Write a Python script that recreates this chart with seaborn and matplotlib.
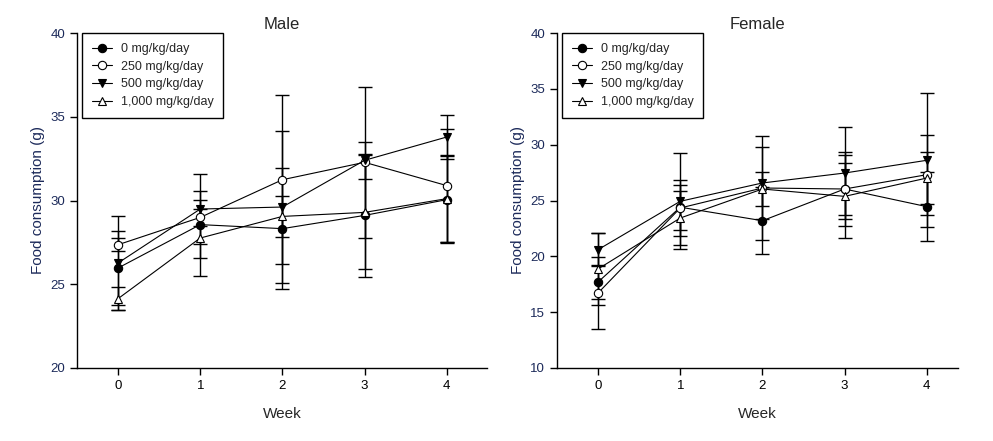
import matplotlib
matplotlib.use("Agg")
import matplotlib.pyplot as plt
import seaborn as sns
import pandas as pd
from matplotlib import font_manager

sns.set_style("ticks")
fams = [f.name for f in font_manager.fontManager.ttflist]
main_font = "Liberation Sans Narrow" if "Liberation Sans Narrow" in fams else "Liberation Sans"
plt.rcParams["font.family"] = [main_font, "DejaVu Sans"]

weeks = [0, 1, 2, 3, 4]
doses = ["0 mg/kg/day", "250 mg/kg/day", "500 mg/kg/day", "1,000 mg/kg/day"]

# Male means and SD
male_0 = [25.97, 28.56, 28.32, 29.11, 30.05]
male_250 = [27.36, 28.99, 31.24, 32.28, 30.89]
male_500 = [26.27, 29.49, 29.61, 32.40, 33.79]
male_1000 = [24.14, 27.76, 29.05, 29.29, 30.11]
male_0_sd = [2.2, 2.0, 3.6, 3.65, 2.6]
male_250_sd = [0.4, 0.5, 5.05, 4.5, 3.35]
male_500_sd = [2.8, 2.1, 4.55, 1.1, 1.3]
male_1000_sd = [0.7, 2.25, 1.2, 3.4, 2.6]

# Female means and SD
female_0 = [17.70, 24.40, 23.19, 26.03, 24.45]
female_250 = [16.72, 24.33, 26.12, 26.03, 27.31]
female_500 = [20.60, 24.93, 26.57, 27.46, 28.60]
female_1000 = [18.87, 23.43, 26.03, 25.37, 27.01]
female_0_sd = [1.5, 2.0, 3.0, 2.3, 3.1]
female_250_sd = [3.2, 2.5, 4.7, 3.3, 3.6]
female_500_sd = [1.5, 4.3, 3.2, 4.1, 6.0]
female_1000_sd = [3.2, 2.45, 1.5, 3.7, 2.3]

markers = ["o", "o", "v", "^"]
faces = ["black", "white", "black", "white"]

fig = plt.figure(figsize=(9.93, 4.41), dpi=100)
ax_m = fig.add_axes([77 / 993, 1 - 368 / 441, 410 / 993, 335 / 441])
ax_f = fig.add_axes([557 / 993, 1 - 368 / 441, 401 / 993, 335 / 441])

panels = [
    (ax_m, "Male", [male_0, male_250, male_500, male_1000],
     [male_0_sd, male_250_sd, male_500_sd, male_1000_sd], (20, 40), 4.49),
    (ax_f, "Female", [female_0, female_250, female_500, female_1000],
     [female_0_sd, female_250_sd, female_500_sd, female_1000_sd], (10, 40), 4.38),
]

for ax, title, means, sds, ylim, xr in panels:
    for i, (m, s) in enumerate(zip(means, sds)):
        ax.errorbar(weeks, m, yerr=s, fmt="none", ecolor="black",
                    elinewidth=1.0, capsize=5, capthick=1.0, zorder=2)
    for i, m in enumerate(means):
        df = pd.DataFrame({"Week": weeks, "val": m})
        sns.lineplot(data=df, x="Week", y="val", ax=ax, color="black",
                     linewidth=0.8, marker=markers[i], markersize=6,
                     markerfacecolor=faces[i], markeredgecolor="black",
                     markeredgewidth=0.8, label=doses[i], zorder=3)
    ax.set_xlim(-0.5, xr)
    ax.set_ylim(*ylim)
    ax.set_xticks(weeks)
    ax.set_yticks(range(ylim[0], ylim[1] + 1, 5))
    ax.tick_params(axis="both", direction="out", length=5, width=1,
                   labelsize=9.5, colors="black")
    for lab in ax.get_yticklabels():
        lab.set_color("#1c2a5a")
    for sp in ["top", "right"]:
        ax.spines[sp].set_visible(False)
    for sp in ["left", "bottom"]:
        ax.spines[sp].set_linewidth(1.0)
        ax.spines[sp].set_color("black")
    ax.set_xlabel("Week", fontsize=11, labelpad=11)
    ax.set_ylabel("Food consumption (g)", fontsize=11, color="#1c2a5a", labelpad=4)
    ax.set_title(title, fontsize=12, pad=3)
    leg = ax.legend(loc="upper left", bbox_to_anchor=(0.012, 1.0), fontsize=9,
                    frameon=True, fancybox=False, edgecolor="black",
                    handlelength=1.6, borderpad=0.8, labelspacing=0.45,
                    handletextpad=0.7, borderaxespad=0.0)
    leg.get_frame().set_linewidth(1.0)
    leg.get_frame().set_alpha(1)

fig.savefig("out.png", dpi=100)
